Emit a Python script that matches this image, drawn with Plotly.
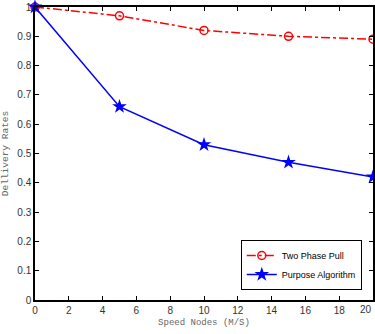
import plotly.graph_objects as go

speed = [0, 5, 10, 15, 20]
two_phase_pull = [1.0, 0.97, 0.92, 0.90, 0.89]
purpose_algorithm = [1.0, 0.66, 0.53, 0.47, 0.42]
x_ticks = [0, 2, 4, 6, 8, 10, 12, 14, 16, 18, 20]
y_ticks = [0, 0.1, 0.2, 0.3, 0.4, 0.5, 0.6, 0.7, 0.8, 0.9, 1]

tick_font = dict(family="Arial, Liberation Sans, sans-serif", size=10, color="#333333")
title_font = dict(family="Liberation Mono, DejaVu Sans Mono, monospace", size=9, color="#666666")

fig = go.Figure()
fig.add_trace(go.Scatter(
    x=speed, y=two_phase_pull, name="Two Phase Pull", mode="lines+markers",
    line=dict(color="#ff0000", width=1.5, dash="dashdot"),
    marker=dict(symbol="circle-open", size=8, color="#ff0000", line=dict(width=1.5)),
    cliponaxis=False,
))
fig.add_trace(go.Scatter(
    x=speed, y=purpose_algorithm, name="Purpose Algorithm", mode="lines+markers",
    line=dict(color="#0000ff", width=1.5),
    marker=dict(symbol="star", size=11, color="#0000ff"),
    cliponaxis=False,
))

axis_common = dict(
    showline=True, linecolor="black", linewidth=1.5, mirror="ticks",
    ticks="inside", ticklen=4, tickcolor="black", showgrid=False, zeroline=False,
    tickfont=tick_font,
)

fig.update_xaxes(range=[0, 20], tickvals=x_ticks, ticktext=[str(v) for v in x_ticks],
                 title=dict(text="Speed Nodes (M/S)", standoff=4, font=title_font),
                 **axis_common)
fig.update_yaxes(range=[0, 1], tickvals=y_ticks, ticktext=[("%g" % v) for v in y_ticks],
                 title=dict(text="Dellivery Rates", standoff=8,
                            font=dict(family=title_font["family"], size=9.5, color="#666666")),
                 **axis_common)

# last x tick label at the right page edge (kept fully visible)
fig.add_annotation(x=x_ticks[-1], y=0, xref="x", yref="y", text=str(x_ticks[-1]),
                   showarrow=False, yanchor="top", xanchor="right", yshift=-2, xshift=1,
                   font=tick_font)

fig.update_layout(
    width=375, height=334,
    margin=dict(l=35, r=0, t=7, b=34),
    paper_bgcolor="white", plot_bgcolor="white",
    legend=dict(x=(242 - 35) / 340, y=(300 - 240) / 293, xanchor="left", yanchor="top",
                bordercolor="black", borderwidth=1, bgcolor="white",
                font=dict(family="Arial, Liberation Sans, sans-serif", size=9, color="black"),
                tracegroupgap=0, itemwidth=30),
    showlegend=True,
)

fig.write_html("out.html")
